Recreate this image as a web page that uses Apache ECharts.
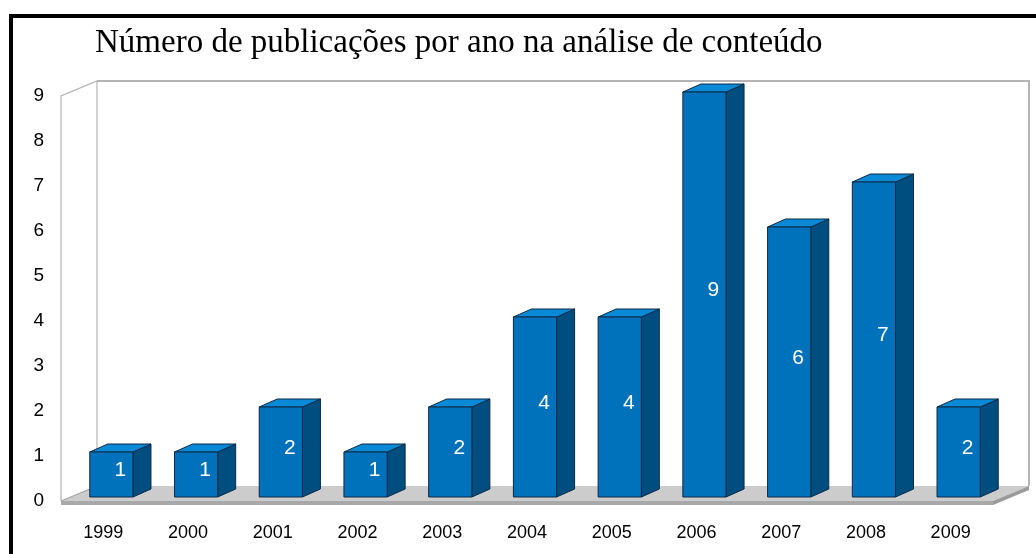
<!DOCTYPE html>
<html>
<head>
<meta charset="utf-8">
<script src="https://cdn.jsdelivr.net/npm/echarts@6/dist/echarts.min.js"></script>
<style>
  html, body { margin: 0; padding: 0; background: #fff; }
  #chart { width: 1036px; height: 554px; }
</style>
</head>
<body>
<div id="chart"></div>
<script>
  // data
  const years = ["1999", "2000", "2001", "2002", "2003", "2004", "2005", "2006", "2007", "2008", "2009"];
  const counts = [1, 1, 2, 1, 2, 4, 4, 9, 6, 7, 2];
  const yMax = 9;

  // pseudo 3d look
  const WALL_DX = 36, WALL_DY = -15;   // depth of the back wall
  const BAR_SHIFT_X = 8, BAR_SHIFT_Y = -4; // bars sit a bit behind the front plane
  const BAR_DX = 18, BAR_DY = -8;      // depth of a bar
  const FRONT = "#0072bc", SIDE = "#004e80", TOP = "#0a89d6", EDGE = "#0f2a45";

  const chart = echarts.init(document.getElementById("chart"));

  function renderWalls(params, api) {
    const cs = params.coordSys;
    const l = cs.x, r = cs.x + cs.width, t = cs.y, b = cs.y + cs.height;
    const wallColor = "#b4b4b4";
    return {
      type: "group",
      children: [
        { type: "polygon", shape: { points: [[l + WALL_DX, t + WALL_DY], [r + WALL_DX, t + WALL_DY], [r + WALL_DX, b + WALL_DY], [l + WALL_DX, b + WALL_DY]] },
          style: { fill: "#fff", stroke: null } },
        { type: "polygon", shape: { points: [[l, b], [r, b], [r + WALL_DX, b + WALL_DY], [l + WALL_DX, b + WALL_DY]] },
          style: { fill: "#cccccc" } },
        { type: "polygon", shape: { points: [[l, b], [r, b], [r, b + 4], [l, b + 4]] },
          style: { fill: "#a8a8a8" } },
        { type: "polygon", shape: { points: [[r, b], [r + WALL_DX, b + WALL_DY], [r + WALL_DX, b + WALL_DY + 4], [r, b + 4]] },
          style: { fill: "#9a9a9a" } },
        { type: "polyline", shape: { points: [[l, b], [l, t], [l + WALL_DX, t + WALL_DY], [l + WALL_DX, b + WALL_DY]] },
          style: { stroke: wallColor, lineWidth: 1.2, fill: null } },
        { type: "polyline", shape: { points: [[l, b], [l + WALL_DX, b + WALL_DY]] },
          style: { stroke: "#9a9a9a", lineWidth: 1, fill: null } },
        { type: "polyline", shape: { points: [[l + WALL_DX, t + WALL_DY], [r + WALL_DX, t + WALL_DY], [r + WALL_DX, b + WALL_DY]] },
          style: { stroke: wallColor, lineWidth: 2, fill: null } }
      ]
    };
  }

  function renderBar(params, api) {
    const i = api.value(0);
    const v = api.value(1);
    const base = api.coord([i, 0]);
    const top = api.coord([i, v]);
    const band = api.size([1, 0])[0];
    const w = band * 0.51;
    const x0 = base[0] - w / 2 + BAR_SHIFT_X;
    const x1 = x0 + w;
    const y0 = top[1] + BAR_SHIFT_Y;
    const y1 = base[1] + BAR_SHIFT_Y;
    const lineStyle = { stroke: EDGE, lineWidth: 1, lineJoin: "round" };
    return {
      type: "group",
      children: [
        { type: "polygon", shape: { points: [[x1, y0], [x1 + BAR_DX, y0 + BAR_DY], [x1 + BAR_DX, y1 + BAR_DY], [x1, y1]] },
          style: Object.assign({ fill: SIDE }, lineStyle) },
        { type: "polygon", shape: { points: [[x0, y0], [x0 + BAR_DX, y0 + BAR_DY], [x1 + BAR_DX, y0 + BAR_DY], [x1, y0]] },
          style: Object.assign({ fill: TOP }, lineStyle) },
        { type: "rect", shape: { x: x0, y: y0, width: w, height: y1 - y0 },
          style: Object.assign({ fill: FRONT }, lineStyle) },
        { type: "text",
          style: {
            text: String(v),
            x: x0 + (w + BAR_DX) / 2,
            y: (y0 + BAR_DY + y1) / 2,
            fill: "#fff",
            fontSize: 21,
            fontFamily: "Liberation Sans, Arial, sans-serif",
            align: "center",
            verticalAlign: "middle"
          } }
      ]
    };
  }

  chart.setOption({
    backgroundColor: "#fff",
    animation: false,
    title: {
      text: "Número de publicações por ano na análise de conteúdo",
      left: 95,
      top: 27,
      padding: 0,
      textStyle: {
        fontFamily: "Liberation Serif, Times New Roman, serif",
        fontSize: 33,
        fontWeight: "normal",
        color: "#000",
        lineHeight: 33
      }
    },
    graphic: [
      { type: "rect", shape: { x: 11, y: 16, width: 1200, height: 700 },
        style: { fill: null, stroke: "#000", lineWidth: 4 }, z: 100 }
    ],
    grid: { left: 61, right: 43, top: 96, bottom: 53 },
    xAxis: {
      type: "category",
      data: years,
      axisLine: { show: false },
      axisTick: { show: false },
      axisLabel: {
        margin: 23,
        color: "#000",
        fontSize: 18,
        fontFamily: "Liberation Sans, Arial, sans-serif"
      }
    },
    yAxis: {
      type: "value",
      min: 0,
      max: yMax,
      interval: 1,
      axisLine: { show: false },
      axisTick: { show: false },
      splitLine: { show: false },
      axisLabel: {
        margin: 17,
        color: "#000",
        fontSize: 19,
        fontFamily: "Liberation Sans, Arial, sans-serif"
      }
    },
    series: [
      {
        type: "custom",
        name: "walls",
        renderItem: renderWalls,
        data: [[0, 0]],
        silent: true,
        z: 1
      },
      {
        type: "custom",
        name: "Publicações",
        renderItem: renderBar,
        encode: { x: 0, y: 1 },
        data: counts.map((v, i) => [i, v]),
        z: 2
      }
    ]
  });
</script>
</body>
</html>
